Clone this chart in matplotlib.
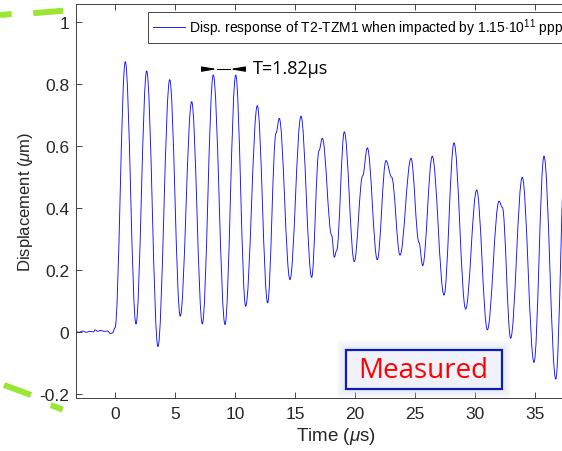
import matplotlib.pyplot as plt
from matplotlib.patches import FancyArrowPatch, Rectangle, PathPatch
from matplotlib.lines import Line2D
from matplotlib.path import Path

plt.rcParams['font.family'] = ['Liberation Sans', 'DejaVu Sans']
plt.rcParams['mathtext.fontset'] = 'custom'
plt.rcParams['mathtext.rm'] = 'Liberation Sans'
plt.rcParams['mathtext.it'] = 'Liberation Sans:italic'

# Measured displacement (baseline, peaks, troughs, shoulders)
time_us = [-3.25, -3.0, -2.7, -2.4, -2.1, -1.8, -1.65, -1.45, -1.2, -0.9,
           -0.6, -0.4, -0.2, 0.0,
           0.86, 1.75, 2.64, 3.58, 4.56, 5.44, 6.39, 7.28, 8.19, 9.17,
           10.06, 10.89, 11.86, 12.72, 13.42, 13.69, 14.58, 15.5, 16.39,
           17.0, 17.28, 18.06, 18.28, 18.47, 19.11, 19.94, 20.64, 21.03,
           21.86, 22.58, 23.06, 23.75, 24.67, 25.33, 25.64, 26.44, 27.42,
           28.25, 29.22, 30.14, 31.03, 32.0, 32.28, 32.97, 33.94, 34.92,
           35.75, 36.73, 37.55]
disp_um = [0.000, -0.002, 0.002, -0.002, 0.001, -0.001, 0.006, 0.001, 0.004, 0.001,
           0.002, -0.006, -0.004, 0.012,
           0.871, 0.025, 0.841, -0.048, 0.813, 0.050, 0.742, 0.025, 0.828, 0.023,
           0.828, 0.082, 0.729, 0.093, 0.640, 0.688, 0.168, 0.695, 0.175,
           0.584, 0.624, 0.31, 0.240, 0.262, 0.645, 0.226, 0.503, 0.593,
           0.232, 0.552, 0.498, 0.247, 0.559, 0.288, 0.213, 0.566, 0.118,
           0.609, 0.073, 0.457, 0.006, 0.421, 0.401, -0.021, 0.498, -0.099,
           0.566, -0.153, 0.62]

x_ticks = [0, 5, 10, 15, 20, 25, 30, 35]
y_ticks = [-0.2, 0, 0.2, 0.4, 0.6, 0.8, 1.0]
y_tick_labels = ['-0.2', '0', '0.2', '0.4', '0.6', '0.8', '1']

legend_label = r'Disp. response of T2-TZM1 when impacted by 1.15$\cdot$10$^{11}$ ppp'
period_label = 'T=1.82µs'
period_from, period_to = 7.5, 10.58  # arrow ends (µs)
period_y = 0.847

W, H = 562, 452


def px(x, y):
    """Pixel position -> figure fraction."""
    return x / W, 1 - y / H


def smooth_path(xs, ys, k=0.364):
    """Cubic Bezier through the points with flat tangents at each one."""
    verts = [(xs[0], ys[0])]
    codes = [Path.MOVETO]
    for x0, y0, x1, y1 in zip(xs[:-1], ys[:-1], xs[1:], ys[1:]):
        dx = x1 - x0
        verts += [(x0 + k * dx, y0), (x1 - k * dx, y1), (x1, y1)]
        codes += [Path.CURVE4] * 3
    return Path(verts, codes)


fig = plt.figure(figsize=(W / 100, H / 100), dpi=100)
ax = fig.add_axes([76 / W, 1 - 399 / H, 519 / W, 394 / H])

ax.add_patch(PathPatch(smooth_path(time_us, disp_um), facecolor='none',
                       edgecolor='#1010ff', lw=0.65))

ax.set_xlim(-3.25, 40)
ax.set_ylim(-0.214, 1.057)
ax.set_xticks(x_ticks)
ax.set_yticks(y_ticks)
ax.set_yticklabels(y_tick_labels)
ax.tick_params(direction='in', length=4, width=0.6, colors='#262626',
               labelsize=12.5, top=True, right=True)
ax.tick_params(axis='x', pad=6)
ax.tick_params(axis='y', pad=5)
for s in ax.spines.values():
    s.set_color('#404040')
    s.set_linewidth(0.7)

ax.set_xlabel(r'Time ($\mu$s)', fontsize=13.5, color='#262626', labelpad=3)
ax.set_ylabel(r'Displacement ($\mu$m)', fontsize=12, color='#262626', labelpad=3)

leg = ax.legend(handles=[Line2D([], [], color='#1010ff', lw=0.65)], labels=[legend_label],
                loc='upper left', bbox_to_anchor=(0.139, 0.98), borderaxespad=0,
                fontsize=10, handlelength=2.3, handletextpad=0.3, borderpad=0.35,
                fancybox=False, framealpha=1, edgecolor='#262626')
leg.get_frame().set_linewidth(0.6)

# Period marker between two peaks
arrow_style = '-|>,head_length=0.8,head_width=0.14'
ax.add_patch(FancyArrowPatch((period_from, period_y), (period_from + 1.0, period_y),
                             arrowstyle=arrow_style, mutation_scale=11, color='k',
                             lw=0.8, shrinkA=0, shrinkB=0))
ax.add_patch(FancyArrowPatch((period_to, period_y), (period_to - 1.0, period_y),
                             arrowstyle=arrow_style, mutation_scale=11, color='k',
                             lw=0.8, shrinkA=0, shrinkB=0))
ax.plot([period_from + 1.0, period_to - 1.0], [period_y, period_y], color='k', lw=0.8)
ax.text(11.5, 0.835, period_label, fontsize=13, family='Open Sans', va='baseline')

# "Measured" label box with soft glow
bx0, by0, bx1, by1 = 345.7, 351, 501.7, 390
for pad in [9, 7, 5, 3]:
    x0, y0 = px(bx0 - pad, by1 + pad)
    x1, y1 = px(bx1 + pad, by0 - pad)
    fig.patches.append(Rectangle((x0, y0), x1 - x0, y1 - y0, transform=fig.transFigure,
                                 facecolor='#d6daec', edgecolor='none', alpha=0.15))
x0, y0 = px(bx0, by1)
x1, y1 = px(bx1, by0)
fig.patches.append(Rectangle((x0, y0), x1 - x0, y1 - y0, transform=fig.transFigure,
                             facecolor='#f1f2f9', edgecolor='#0a1fb0', lw=1.6))
fig.text((x0 + x1) / 2, (y0 + y1) / 2, 'Measured', family='Open Sans', fontsize=20,
         color='red', ha='center', va='center')

# Green dashes from the surrounding slide outline
green_dashes = [((0, 16), (11.7, 15)), ((33.3, 14.2), (63.3, 11.7)),
                ((4, 386), (31, 396)), ((50.7, 406), (62.7, 410.7))]
for (xa, ya), (xb, yb) in green_dashes:
    p0, p1 = px(xa, ya), px(xb, yb)
    fig.add_artist(Line2D([p0[0], p1[0]], [p0[1], p1[1]], transform=fig.transFigure,
                          color='#9ae632', lw=4.3, solid_capstyle='butt'))

fig.savefig('out.png', dpi=100)
